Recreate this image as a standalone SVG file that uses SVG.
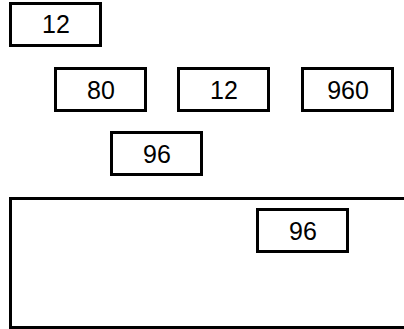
<svg xmlns="http://www.w3.org/2000/svg" width="404" height="329" viewBox="0 0 404 329">
<style>
rect{fill:#fff;stroke:#000;stroke-width:3}
text{font-family:"Liberation Sans",Arial,sans-serif;font-size:25px;fill:#000;text-anchor:middle}
</style>
<rect x="0" y="0" width="404" height="329" style="stroke:none"/>
<g id="n1"><rect x="10.5" y="3.5" width="90" height="42"/><text x="56" y="33">12</text></g>
<g id="n2"><rect x="55.5" y="68.5" width="90" height="42"/><text x="101" y="99">80</text></g>
<g id="n3"><rect x="178.5" y="68.5" width="90" height="42"/><text x="224" y="99">12</text></g>
<g id="n4"><rect x="302.5" y="68.5" width="90" height="42"/><text x="348" y="99">960</text></g>
<g id="n5"><rect x="111.5" y="132.5" width="90" height="42"/><text x="157" y="163">96</text></g>
<g id="n6"><rect x="10.5" y="198.5" width="420" height="129"/></g>
<g id="n7"><rect x="257.5" y="209.5" width="90" height="42"/><text x="303" y="240">96</text></g>
<g id="connectors"/>
</svg>
